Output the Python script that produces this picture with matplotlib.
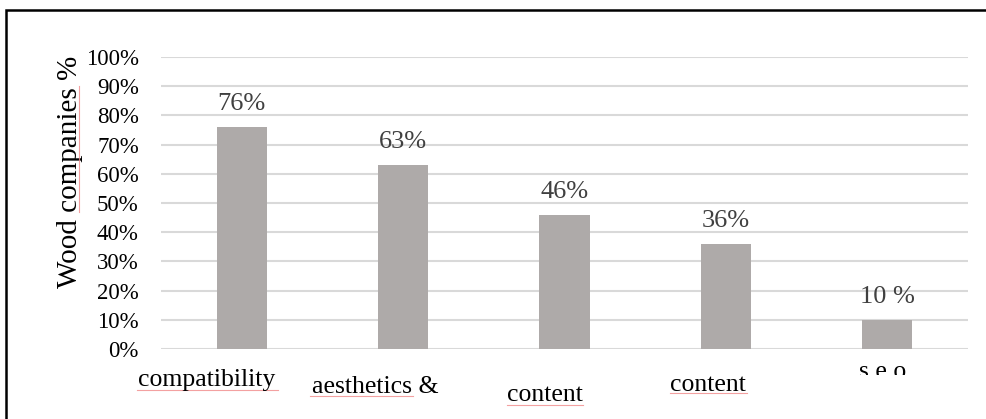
import matplotlib
matplotlib.use("Agg")
import matplotlib.pyplot as plt
from matplotlib.patches import Rectangle
from matplotlib.lines import Line2D
from matplotlib.transforms import Bbox

categories = ["compatibility", "aesthetics &", "content", "content", "s e o"]
values = [76, 63, 46, 36, 10]
value_labels = ["76%", "63%", "46%", "36%", "10 %"]
yticks = list(range(0, 101, 10))
ytick_labels = [f"{v}%" for v in yticks]

plt.rcParams['font.family'] = ['Liberation Serif', 'DejaVu Serif']

W, H = 986, 419
fig = plt.figure(figsize=(W / 100, H / 100), dpi=100)
ax = fig.add_axes([161 / W, 1 - 349 / H, (968 - 161) / W, (349 - 57) / H])

x = list(range(len(categories)))
ax.bar(x, values, width=0.31, color='#aeaaa9', zorder=3)
ax.set_xlim(-0.5, len(categories) - 0.5)
ax.set_ylim(0, 100)
ax.set_yticks(yticks)
ax.set_yticklabels(ytick_labels, fontsize=16.5)
ax.tick_params(axis='y', length=0, pad=16)
ax.set_xticks([])
ax.yaxis.grid(True, color='#d9d9d9', linewidth=1.5, zorder=0)
for s in ax.spines.values():
    s.set_visible(False)

for xi, v, lab in zip(x, values, value_labels):
    ax.annotate(lab, (xi, v), xytext=(0, 12.3), textcoords='offset points',
                ha='center', va='baseline', fontsize=19, color='#404040')

ax.set_ylabel("Wood companies %", fontsize=21)
ax.yaxis.set_label_coords((83 - 161) / (968 - 161), (349 - 172) / (349 - 57))

# category labels, staggered as in the original layout
label_pos = [(207, 380), (375, 387), (545, 395), (708, 385)]
for cat, (px, py) in zip(categories[:-1], label_pos):
    fig.text(px / W, 1 - py / H, cat, ha='center', va='center', fontsize=18.5, color='black')
# the last label is cut off by the bottom of the frame
t = fig.text(883 / W, 1 - 361 / H, categories[-1], ha='center', va='top', fontsize=18.5, color='black')
t.set_clip_box(Bbox.from_extents(0, H - 375, W, H))
t.set_clip_on(True)

# spell-check style underlines
red = '#f08a8a'
for x0, x1, yy in [(137, 278, 390), (310, 413, 396), (507, 583, 405), (670, 747, 393)]:
    fig.add_artist(Line2D([x0 / W, x1 / W], [1 - yy / H, 1 - yy / H], color=red, lw=0.8, alpha=0.8))
fig.add_artist(Line2D([79 / W, 79 / W], [1 - 86 / H, 1 - 212 / H], color=red, lw=0.8, alpha=0.8))

# outer frame
fig.add_artist(Rectangle((5.5 / W, -0.2), 1.2, 1.2 - 9.5 / H, transform=fig.transFigure,
                         fill=False, edgecolor='black', linewidth=1.8))

fig.savefig("out.png", dpi=100)
